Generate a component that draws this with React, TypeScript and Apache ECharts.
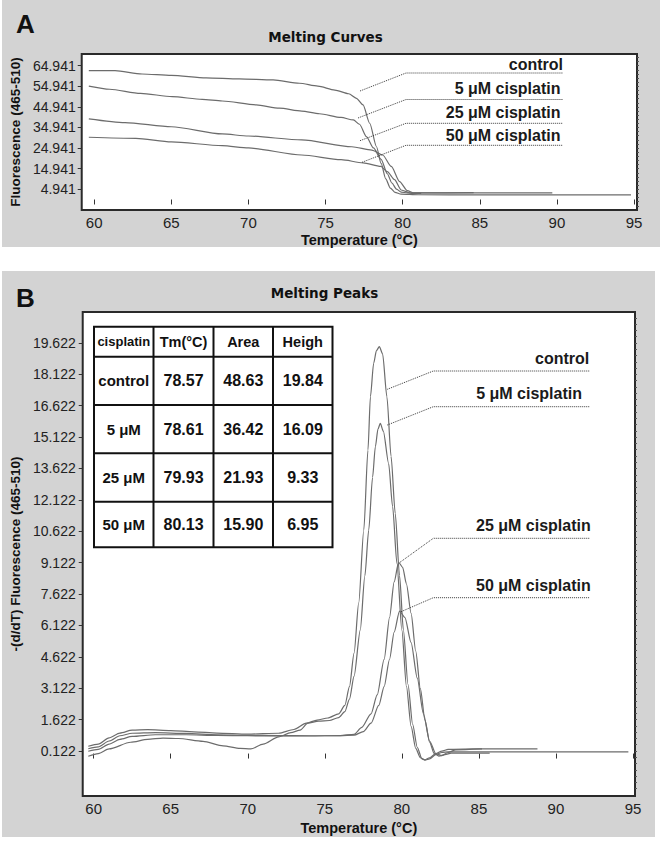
import React, { useEffect, useRef } from "react";
import * as echarts from "echarts";

// ---------- data ----------
const tempTicks = [60, 65, 70, 75, 80, 85, 90, 95];
const curveTicksA = [4.941, 14.941, 24.941, 34.941, 44.941, 54.941, 64.941];
const peakTicksB = [0.122, 1.622, 3.122, 4.622, 6.122, 7.622, 9.122, 10.622, 12.122, 13.622, 15.122, 16.622, 18.122, 19.622];

const seriesNames = ["control", "5 μM cisplatin", "25 μM cisplatin", "50 μM cisplatin"];

// Panel A: melting curves (temperature °C, fluorescence)
const curveControl = [[59.65,62.5],[61.35,62.5],[63.1,60.9],[65.0,60.2],[67.25,59.0],[69.4,58.5],[71.6,58.0],[73.3,56.4],[74.5,55.0],[75.6,53.1],[76.5,51.3],[77.0,49.1],[77.43,45.9],[77.86,37.0],[78.3,25.6],[78.6,17.5],[78.9,10.0],[79.2,5.5],[79.5,3.5],[79.9,2.6],[81.0,2.3],[85.0,2.2],[90.0,2.2],[94.8,2.2]];
const curve5uM = [[59.65,55.0],[61.0,53.5],[63.0,51.5],[65.06,49.9],[67.0,48.6],[68.3,47.8],[70.5,45.9],[72.0,44.3],[73.45,42.9],[74.6,41.6],[76.0,39.8],[76.8,38.6],[77.2,36.5],[77.65,30.5],[78.1,25.0],[78.6,19.5],[79.0,12.5],[79.3,8.0],[79.6,5.0],[79.9,3.6],[80.3,3.2],[82.0,3.2],[89.7,3.2]];
const curve25uM = [[59.65,39.1],[62.0,37.3],[65.0,35.3],[68.3,31.8],[70.0,30.8],[73.45,28.9],[76.7,25.6],[78.0,24.0],[78.7,21.6],[79.26,16.05],[79.8,8.7],[80.3,4.3],[80.7,3.2],[81.2,3.2],[84.6,3.3]];
const curve50uM = [[59.65,30.2],[62.7,29.7],[65.0,28.0],[68.3,26.1],[70.0,25.0],[73.45,21.6],[76.0,19.3],[77.43,17.8],[78.58,16.05],[79.0,13.5],[79.47,9.6],[79.9,4.6],[80.55,3.0],[81.2,3.0]];

// Panel B: melting peaks -(d/dT)
const peakControl = [[59.65,0.35],[60.3,0.45],[61.0,0.75],[61.7,0.98],[62.5,1.12],[63.5,1.14],[65.0,1.1],[66.5,1.04],[68.0,0.98],[70.0,0.93],[72.0,0.97],[73.0,1.15],[73.8,1.45],[74.5,1.6],[75.2,1.7],[75.9,1.9],[76.3,2.3],[76.6,3.2],[76.9,4.8],[77.2,7.2],[77.53,10.68],[77.8,14.5],[77.96,17.05],[78.17,18.65],[78.35,19.25],[78.54,19.45],[78.75,19.1],[79.03,17.05],[79.3,14.2],[79.57,11.48],[79.85,8.5],[80.1,5.9],[80.4,3.3],[80.7,1.4],[81.0,0.3],[81.3,-0.25],[81.5,-0.32],[81.8,-0.25],[82.2,-0.05],[82.6,0.05],[83.0,0.08],[88.0,0.08],[94.7,0.08]];
const peak5uM = [[59.65,-0.13],[60.3,0.0],[61.0,0.22],[62.4,0.54],[63.5,0.68],[64.5,0.74],[65.5,0.72],[67.1,0.58],[68.4,0.37],[69.5,0.25],[70.2,0.22],[71.0,0.45],[72.0,0.8],[72.8,1.0],[73.4,1.12],[73.9,1.45],[74.6,1.55],[75.3,1.58],[75.9,1.72],[76.3,2.0],[76.6,2.6],[76.9,3.7],[77.3,5.9],[77.6,8.5],[77.85,10.68],[78.1,13.2],[78.28,14.66],[78.45,15.5],[78.6,15.78],[78.8,15.4],[79.14,13.87],[79.4,11.8],[79.68,9.09],[80.0,5.9],[80.3,3.2],[80.6,1.3],[80.9,0.25],[81.2,-0.2],[81.5,-0.3],[81.8,-0.2],[82.2,0.0],[82.6,0.12],[83.0,0.2],[85.0,0.22],[88.8,0.22]];
const peak25uM = [[59.65,0.11],[60.3,0.2],[61.0,0.45],[61.7,0.68],[62.5,0.82],[64.0,0.9],[66.0,0.9],[68.0,0.87],[70.0,0.85],[72.0,0.84],[74.0,0.84],[76.0,0.86],[76.9,0.92],[77.4,1.25],[78.0,1.9],[78.4,2.8],[78.85,4.5],[79.2,6.5],[79.5,8.2],[79.79,9.14],[80.05,8.9],[80.3,8.1],[80.6,6.7],[80.9,4.9],[81.2,3.1],[81.5,1.6],[81.8,0.55],[82.1,0.0],[82.4,-0.12],[82.8,-0.05],[83.2,0.02],[85.7,0.02]];
const peak50uM = [[59.65,0.23],[60.3,0.32],[61.0,0.6],[61.7,0.85],[62.5,0.97],[64.0,1.0],[66.0,0.96],[68.0,0.9],[70.0,0.87],[72.0,0.86],[74.0,0.85],[76.0,0.85],[76.9,0.88],[77.5,1.05],[78.0,1.45],[78.5,2.3],[78.85,3.2],[79.2,4.5],[79.5,5.8],[79.85,6.81],[80.2,6.5],[80.6,5.3],[81.0,3.6],[81.4,1.9],[81.8,0.6],[82.2,0.0],[82.6,-0.1],[83.0,0.05],[83.5,0.18],[85.2,0.22]];

// Inset table
const tableHeader = ["cisplatin", "Tm(°C)", "Area", "Heigh"];
const tableRowLabels = ["control", "5 μM", "25 μM", "50 μM"];
const tableTm = ["78.57", "78.61", "79.93", "80.13"];
const tableArea = ["48.63", "36.42", "21.93", "15.90"];
const tableHeight = ["19.84", "16.09", "9.33", "6.95"];

// ---------- helpers ----------
const minorTicks = (start: number, step: number, lo: number, hi: number) => {
  const out: number[] = [];
  for (let k = -20; k < 200; k++) {
    const v = start + k * step;
    if (v >= lo && v <= hi) out.push(+v.toFixed(4));
  }
  return out;
};

const LABEL_FONT = "'Liberation Sans Narrow','Arial Narrow','Liberation Sans',Arial,sans-serif";
const SANS = "'Liberation Sans',Arial,Helvetica,sans-serif";

const A_Y = [-5.1, 70.6];
const B_Y = [-2.028, 21.1];

function buildOption() {
  const lineStyle = { color: "#6c6c6c", width: 1.2 };
  const mk = (name: string, data: number[][], xi: number, yi: number) => ({
    name,
    type: "line",
    xAxisIndex: xi,
    yAxisIndex: yi,
    data,
    showSymbol: false,
    smooth: 0.25,
    smoothMonotone: "x",
    lineStyle,
    silent: true,
    animation: false,
  });

  const xAxisBase = (gi: number, min: number, max: number) => ({
    gridIndex: gi,
    type: "value",
    min,
    max,
    axisLine: { show: false },
    splitLine: { show: false },
    axisTick: { show: true, customValues: tempTicks, length: 5, lineStyle: { color: "#333", width: 1 } },
    axisLabel: { customValues: tempTicks, margin: 5, fontFamily: LABEL_FONT, fontSize: 15, color: "#222" },
    name: "Temperature (°C)",
    nameLocation: "middle",
    nameGap: 22,
    nameTextStyle: { fontFamily: SANS, fontWeight: "bold", fontSize: 14.5, color: "#111" },
  });

  const yAxisMain = (gi: number, ext: number[], ticks: number[], name: string, margin: number) => ({
    gridIndex: gi,
    type: "value",
    min: ext[0],
    max: ext[1],
    axisLine: { show: false },
    splitLine: { show: false },
    axisTick: { show: true, customValues: ticks, length: 4, lineStyle: { color: "#333", width: 1 } },
    axisLabel: {
      customValues: ticks,
      margin,
      fontFamily: LABEL_FONT,
      fontSize: 14,
      color: "#222",
      formatter: (v: number) => v.toFixed(3),
    },
    name,
    nameLocation: "middle",
    nameGap: 51,
    nameRotate: 90,
    nameTextStyle: { fontFamily: SANS, fontWeight: "bold", fontSize: 13.5, color: "#111" },
  });

  const yAxisMinor = (gi: number, ext: number[], ticks: number[]) => ({
    gridIndex: gi,
    type: "value",
    min: ext[0],
    max: ext[1],
    axisLine: { show: false },
    splitLine: { show: false },
    axisLabel: { show: false },
    axisTick: { show: true, customValues: ticks, length: 2, lineStyle: { color: "#555", width: 1 } },
  });

  const graphic: any[] = [];
  // gray panels
  graphic.push({ type: "rect", z: -5, shape: { x: 2, y: 0, width: 658, height: 247 }, style: { fill: "#d3d3d3" } });
  graphic.push({ type: "rect", z: -5, shape: { x: 2, y: 271, width: 653, height: 566 }, style: { fill: "#d3d3d3" } });
  // panel letters
  graphic.push({ type: "text", x: 16, y: 24, style: { text: "A", font: `bold 26px ${SANS}`, fill: "#111", textVerticalAlign: "middle" } });
  graphic.push({ type: "text", x: 16, y: 298, style: { text: "B", font: `bold 26px ${SANS}`, fill: "#111", textVerticalAlign: "middle" } });
  // titles
  graphic.push({ type: "text", x: 325.5, y: 37, style: { text: "Melting Curves", font: `bold 13.5px 'DejaVu Sans',sans-serif`, fill: "#111", textAlign: "center", textVerticalAlign: "middle" } });
  graphic.push({ type: "text", x: 324.5, y: 293, style: { text: "Melting Peaks", font: `bold 13.5px 'DejaVu Sans',sans-serif`, fill: "#111", textAlign: "center", textVerticalAlign: "middle" } });

  // annotations (label, text right, text y, line y, leader end)
  const annA = [
    { r: 563, ty: 64, ly: 73, ex: 360, ey: 91 },
    { r: 560.5, ty: 88.3, ly: 99.5, ex: 358, ey: 118 },
    { r: 560.5, ty: 112.7, ly: 123.3, ex: 360, ey: 140.7 },
    { r: 560.5, ty: 135, ly: 145.3, ex: 362, ey: 162.3 },
  ];
  const annB = [
    { r: 589.3, ty: 358.3, ly: 371, ex: 387.3, ey: 389.3 },
    { r: 582, ty: 393.3, ly: 406.7, ex: 387.3, ey: 425 },
    { r: 590.7, ty: 525, ly: 538.3, ex: 400, ey: 562.3 },
    { r: 590.7, ty: 585, ly: 597.7, ex: 401, ey: 611.7 },
  ];
  const addAnn = (list: any[], x0: number, x1: number) => {
    list.forEach((a, i) => {
      graphic.push({
        type: "text",
        x: a.r,
        y: a.ty,
        z: 20,
        style: { text: seriesNames[i], font: `bold 16px ${SANS}`, fill: "#1a1a1a", textAlign: "right", textVerticalAlign: "middle" },
      });
      graphic.push({
        type: "polyline",
        z: 20,
        shape: { points: [[a.ex, a.ey], [x0, a.ly], [x1, a.ly]] },
        style: { stroke: "#3a3a3a", lineWidth: 1, lineDash: [1, 1], fill: null },
      });
    });
  };
  addAnn(annA, 406, 563);
  addAnn(annB, 433.3, 590);

  // table
  const colEdges = [94, 153.5, 213.5, 273, 332.5];
  const rowEdges = [326.7, 356.7, 405, 453.3, 501.7, 547.3];
  graphic.push({
    type: "rect",
    z: 30,
    shape: { x: colEdges[0], y: rowEdges[0], width: colEdges[4] - colEdges[0], height: rowEdges[5] - rowEdges[0] },
    style: { fill: "#fff", stroke: "#111", lineWidth: 2 },
  });
  colEdges.slice(1, 4).forEach((x) =>
    graphic.push({ type: "line", z: 31, shape: { x1: x, y1: rowEdges[0], x2: x, y2: rowEdges[5] }, style: { stroke: "#111", lineWidth: 2 } })
  );
  rowEdges.slice(1, 5).forEach((y) =>
    graphic.push({ type: "line", z: 31, shape: { x1: colEdges[0], y1: y, x2: colEdges[4], y2: y }, style: { stroke: "#111", lineWidth: 2 } })
  );
  const cell = (txt: string, c: number, r: number, size: number) => {
    graphic.push({
      type: "text",
      z: 32,
      x: (colEdges[c] + colEdges[c + 1]) / 2,
      y: (rowEdges[r] + rowEdges[r + 1]) / 2,
      style: { text: txt, font: `bold ${size}px ${SANS}`, fill: "#111", textAlign: "center", textVerticalAlign: "middle" },
    });
  };
  tableHeader.forEach((h, c) => cell(h, c, 0, c === 0 ? 13 : 14.5));
  tableRowLabels.forEach((lab, r) => {
    cell(lab, 0, r + 1, 15);
    cell(tableTm[r], 1, r + 1, 16);
    cell(tableArea[r], 2, r + 1, 16);
    cell(tableHeight[r], 3, r + 1, 16);
  });

  return {
    animation: false,
    backgroundColor: "#ffffff",
    grid: [
      { left: 79, top: 54, width: 558, height: 156, show: true, backgroundColor: "#ffffff", borderColor: "#2a2a2a", borderWidth: 2 },
      { left: 79, top: 312, width: 556, height: 484, show: true, backgroundColor: "#ffffff", borderColor: "#2a2a2a", borderWidth: 2 },
    ],
    xAxis: [xAxisBase(0, 59.19, 95.19), xAxisBase(1, 59.29, 95.13)],
    yAxis: [
      yAxisMain(0, A_Y, curveTicksA, "Fluorescence (465-510)", 6),
      yAxisMain(1, B_Y, peakTicksB, "-(d/dT) Fluorescence (465-510)", 7),
      yAxisMinor(0, A_Y, minorTicks(4.941, 2, -5, 70)),
      yAxisMinor(1, B_Y, minorTicks(0.122, 0.3, -1.9, 21)),
    ],
    series: [
      mk(seriesNames[0], curveControl, 0, 0),
      mk(seriesNames[1], curve5uM, 0, 0),
      mk(seriesNames[2], curve25uM, 0, 0),
      mk(seriesNames[3], curve50uM, 0, 0),
      mk(seriesNames[0], peakControl, 1, 1),
      mk(seriesNames[1], peak5uM, 1, 1),
      mk(seriesNames[2], peak25uM, 1, 1),
      mk(seriesNames[3], peak50uM, 1, 1),
    ],
    graphic,
  };
}

export default function App() {
  const ref = useRef<HTMLDivElement>(null);
  useEffect(() => {
    if (!ref.current) return;
    const chart = echarts.init(ref.current, null, { renderer: "svg" });
    chart.setOption(buildOption() as any);
    return () => chart.dispose();
  }, []);
  return <div ref={ref} style={{ position: "absolute", left: 0, top: 0, width: 664, height: 843 }} />;
}
